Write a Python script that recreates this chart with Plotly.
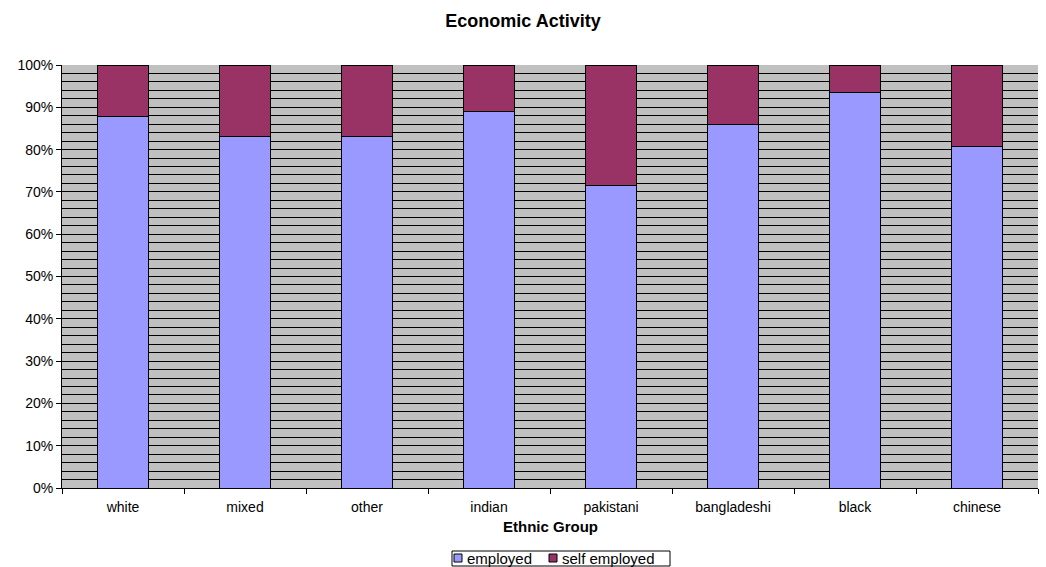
import plotly.graph_objects as go

categories = ["white", "mixed", "other", "indian", "pakistani", "bangladeshi", "black", "chinese"]
employed = [87.8, 83.2, 83.2, 89.1, 71.6, 86.0, 93.4, 80.7]
self_employed = [100 - v for v in employed]
y_ticks = [0, 10, 20, 30, 40, 50, 60, 70, 80, 90, 100]
series_names = ["employed", "self employed"]
series_colors = ["#9999FF", "#993366"]

font = "Liberation Sans, Arial, sans-serif"
W, H = 1046, 567
ML, MR, MT, MB = 62, 8, 65, 79
PW, PH = W - ML - MR, H - MT - MB


def px_x(px):
    return (px - ML) / PW


def px_y(py):
    return (H - MB - py) / PH


fig = go.Figure()
for name, vals, col in zip(series_names, [employed, self_employed], series_colors):
    fig.add_trace(go.Bar(x=categories, y=[v / 100 for v in vals], name=name,
                         marker=dict(color=col, line=dict(color="black", width=1))))

# manual compact legend (Excel style)
shapes = [dict(type="rect", xref="paper", yref="paper",
               x0=px_x(452), x1=px_x(670), y0=px_y(566), y1=px_y(551),
               line=dict(color="black", width=1), fillcolor="white", layer="above")]
annotations = [dict(text="<b>Ethnic Group</b>", x=0.5, xref="paper", y=px_y(526), yref="paper",
                    xanchor="center", yanchor="middle", showarrow=False,
                    font=dict(family=font, size=15, color="black"))]
leg_sq_x = [454, 549]
for sx, name, col in zip(leg_sq_x, series_names, series_colors):
    shapes.append(dict(type="rect", xref="paper", yref="paper",
                       x0=px_x(sx), x1=px_x(sx + 8), y0=px_y(562), y1=px_y(554),
                       line=dict(color="black", width=1), fillcolor=col, layer="above"))
    annotations.append(dict(text=name, x=px_x(sx + 11), xref="paper", y=px_y(558.5), yref="paper",
                            xanchor="left", yanchor="middle", showarrow=False,
                            font=dict(family=font, size=15, color="black")))

fig.update_layout(
    barmode="stack",
    bargap=0.59,
    width=W, height=H,
    margin=dict(l=ML, r=MR, t=MT, b=MB, autoexpand=False),
    paper_bgcolor="white",
    plot_bgcolor="#C0C0C0",
    font=dict(family=font, size=13, color="black"),
    title=dict(text="<b>Economic Activity</b>", x=0.5, xref="container", xanchor="center",
               y=1 - 21 / H, yref="container", yanchor="middle",
               font=dict(family=font, size=18, color="black")),
    showlegend=False,
    shapes=shapes,
    annotations=annotations,
)
fig.update_xaxes(
    showline=True, linecolor="black", linewidth=1,
    ticks="outside", ticklen=5, tickcolor="black", tickson="boundaries",
    showgrid=False, automargin=False,
    ticklabelstandoff=6,
    tickfont=dict(family=font, size=14, color="black"),
)
fig.update_yaxes(
    range=[0, 1], tickvals=[v / 100 for v in y_ticks], ticktext=[f"{v}%" for v in y_ticks],
    showline=True, linecolor="black", linewidth=1,
    ticks="outside", ticklen=5, tickcolor="black",
    showgrid=True, gridcolor="black", gridwidth=1,
    minor=dict(dtick=0.02, showgrid=True, gridcolor="black", gridwidth=1, ticks=""),
    zeroline=False, automargin=False,
    tickfont=dict(family=font, size=14, color="black"),
)
fig.write_html("out.html")
